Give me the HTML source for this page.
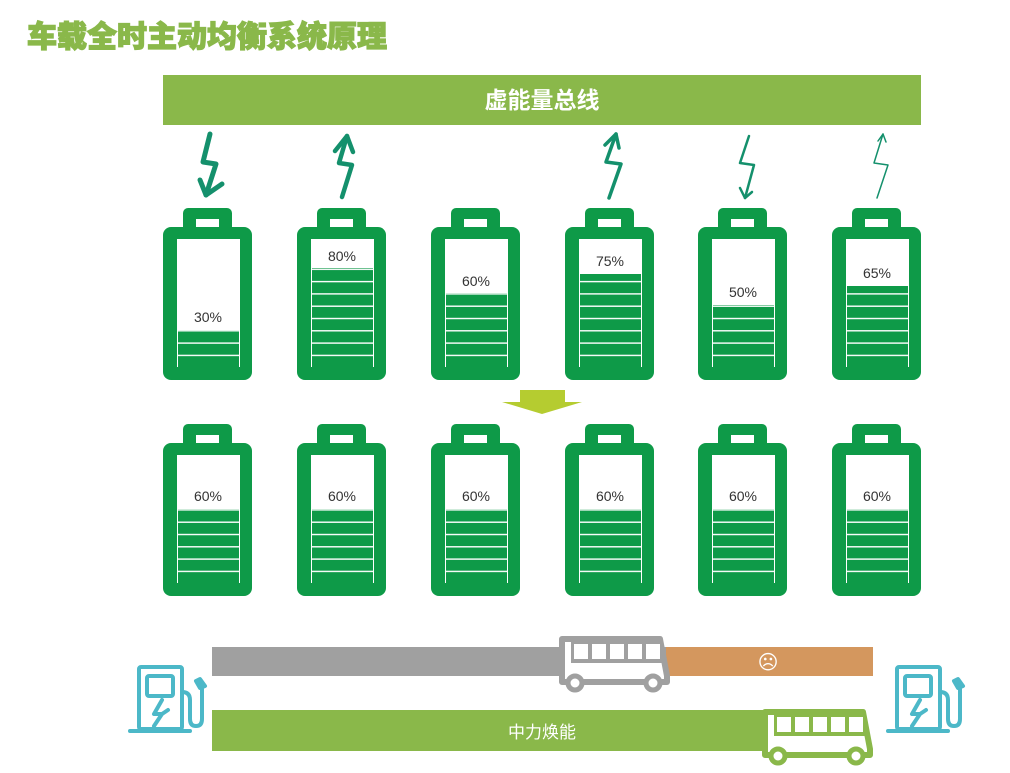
<!DOCTYPE html>
<html><head><meta charset="utf-8"><style>
body{margin:0;background:#fff;}
svg{display:block;}
text{font-family:"Liberation Sans","Noto Sans CJK SC",sans-serif;}
</style></head><body>
<svg width="1010" height="773" viewBox="0 0 1010 773" xmlns="http://www.w3.org/2000/svg">
<defs>
<g id="bat">
  <rect x="20" y="0" width="49" height="30" rx="5" fill="#0e9a48"/>
  <rect x="33" y="11" width="23" height="12" fill="#fff"/>
  <rect x="0" y="19" width="89" height="153" rx="8" fill="#0e9a48"/>
  <rect x="14" y="31" width="63" height="128" fill="#fff"/>
</g>
<pattern id="p1" patternUnits="userSpaceOnUse" width="1000" height="12.3" patternTransform="translate(0,367)"><rect x="0" y="0" width="1000" height="1.4" fill="#fff"/></pattern>
<pattern id="p2" patternUnits="userSpaceOnUse" width="1000" height="12.3" patternTransform="translate(0,583)"><rect x="0" y="0" width="1000" height="1.4" fill="#fff"/></pattern>
<g id="station" fill="none" stroke="#4cb8c8" stroke-width="4" stroke-linecap="round" stroke-linejoin="round">
  <rect x="9" y="3" width="43" height="62" rx="2"/>
  <rect x="17" y="12" width="26" height="20" rx="2"/>
  <line x1="0" y1="67" x2="60" y2="67"/>
  <path d="M52 28 Q60 28 60 36 L60 55 Q60 62 66 62 Q72 62 72 55 L72 25 L67 17"/>
  <path d="M70 24 L66 17 L70 15 L75 22 Z" fill="#4cb8c8"/>
  <path d="M32 36 L24 50 L32 50 L24 62 M32 50 L38 46 M24 50"/>
</g>
<g id="bus">
  <path d="M3 3 L101 3 L108 40 L108 46 L3 46 Z" fill="#fff" stroke="currentColor" stroke-width="6" stroke-linejoin="round"/>
  <rect x="12" y="5" width="92" height="22" fill="currentColor"/>
  <g fill="#fff">
    <rect x="15" y="8" width="14" height="15"/><rect x="33" y="8" width="14" height="15"/><rect x="51" y="8" width="14" height="15"/><rect x="69" y="8" width="14" height="15"/><rect x="87" y="8" width="14" height="15"/>
  </g>
  <circle cx="16" cy="47" r="7" fill="#fff" stroke="currentColor" stroke-width="5"/>
  <circle cx="94" cy="47" r="7" fill="#fff" stroke="currentColor" stroke-width="5"/>
</g>
</defs>

<text x="27" y="47" font-size="30" font-weight="900" fill="#8ab84a" stroke="#8ab84a" stroke-width="1.2">车载全时主动均衡系统原理</text>

<rect x="163" y="75" width="758" height="50" fill="#8ab84a"/>
<text x="542" y="108" font-size="23" font-weight="bold" fill="#fff" text-anchor="middle">虚能量总线</text>

<g fill="none" stroke="#14906c" stroke-linecap="round" stroke-linejoin="round">
  <path d="M210 134 L203 162 L216 164 L206 195" stroke-width="5"/>
  <path d="M200 180 L206 195 L222 184" stroke-width="5"/>
  <path d="M342 197 L352 165 L339 163 L347 136" stroke-width="4.5"/>
  <path d="M335 151 L347 136 L353 152" stroke-width="4.5"/>
  <path d="M609 198 L621 164 L606 162 L616 134" stroke-width="3.5"/>
  <path d="M605 145 L616 134 L619 148" stroke-width="3.5"/>
  <path d="M749 136 L740 163 L754 165 L745 198" stroke-width="2.5"/>
  <path d="M740 188 L745 198 L752 192" stroke-width="2.5"/>
  <path d="M877 198 L888 165 L874 163 L883 134" stroke-width="1.5"/>
  <path d="M878 141 L883 134 L886 142" stroke-width="1.5"/>
</g>

<g>
<use href="#bat" x="163" y="208"/><use href="#bat" x="297" y="208"/><use href="#bat" x="431" y="208"/>
<use href="#bat" x="565" y="208"/><use href="#bat" x="698" y="208"/><use href="#bat" x="832" y="208"/>
<rect x="178" y="330" width="61" height="37" fill="#0e9a48"/><rect x="178" y="330" width="61" height="37" fill="url(#p1)"/>
<rect x="312" y="268" width="61" height="99" fill="#0e9a48"/><rect x="312" y="268" width="61" height="99" fill="url(#p1)"/>
<rect x="446" y="293" width="61" height="74" fill="#0e9a48"/><rect x="446" y="293" width="61" height="74" fill="url(#p1)"/>
<rect x="580" y="274" width="61" height="93" fill="#0e9a48"/><rect x="580" y="274" width="61" height="93" fill="url(#p1)"/>
<rect x="713" y="305" width="61" height="62" fill="#0e9a48"/><rect x="713" y="305" width="61" height="62" fill="url(#p1)"/>
<rect x="847" y="286" width="61" height="81" fill="#0e9a48"/><rect x="847" y="286" width="61" height="81" fill="url(#p1)"/>
<g font-size="14" fill="#333" text-anchor="middle">
<text x="208" y="322">30%</text><text x="342" y="261">80%</text><text x="476" y="286">60%</text>
<text x="610" y="266">75%</text><text x="743" y="297">50%</text><text x="877" y="278">65%</text>
</g>
</g>

<path d="M520 390 L565 390 L565 402 L582 402 L542 414 L502 402 L520 402 Z" fill="#b5cc30"/>

<g>
<use href="#bat" x="163" y="424"/><use href="#bat" x="297" y="424"/><use href="#bat" x="431" y="424"/>
<use href="#bat" x="565" y="424"/><use href="#bat" x="698" y="424"/><use href="#bat" x="832" y="424"/>
<g fill="#0e9a48">
<rect x="178" y="509" width="61" height="74"/><rect x="312" y="509" width="61" height="74"/><rect x="446" y="509" width="61" height="74"/>
<rect x="580" y="509" width="61" height="74"/><rect x="713" y="509" width="61" height="74"/><rect x="847" y="509" width="61" height="74"/>
</g>
<g fill="url(#p2)">
<rect x="178" y="509" width="61" height="74"/><rect x="312" y="509" width="61" height="74"/><rect x="446" y="509" width="61" height="74"/>
<rect x="580" y="509" width="61" height="74"/><rect x="713" y="509" width="61" height="74"/><rect x="847" y="509" width="61" height="74"/>
</g>
<g font-size="14" fill="#333" text-anchor="middle">
<text x="208" y="501">60%</text><text x="342" y="501">60%</text><text x="476" y="501">60%</text>
<text x="610" y="501">60%</text><text x="743" y="501">60%</text><text x="877" y="501">60%</text>
</g>
</g>

<rect x="212" y="647" width="460" height="29" fill="#a0a0a0"/>
<rect x="666" y="647" width="207" height="29" fill="#d4975e"/>
<text x="768" y="669" font-size="20" fill="#fff" text-anchor="middle" font-family="DejaVu Sans">☹</text>
<use href="#bus" x="559" y="636" color="#a0a0a0"/>
<rect x="212" y="710" width="560" height="41" fill="#8ab84a"/>
<text x="542" y="738" font-size="17" fill="#fff" text-anchor="middle">中力焕能</text>
<use href="#bus" x="762" y="709" color="#8ab84a"/>
<use href="#station" x="130" y="664"/>
<use href="#station" x="888" y="664"/>
</svg>
</body></html>
